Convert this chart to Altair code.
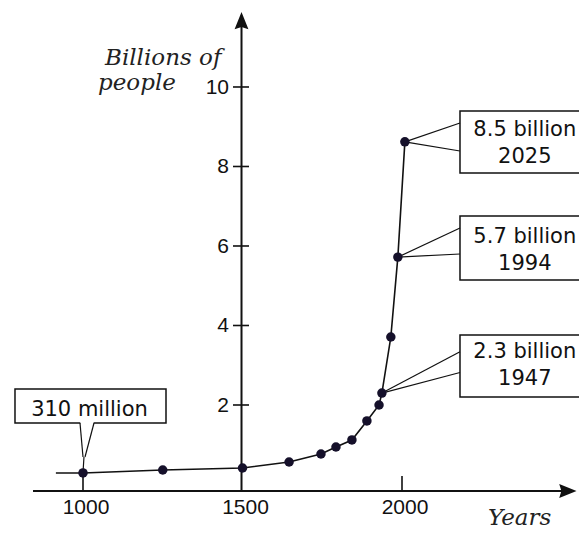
import altair as alt
import pandas as pd

# ---- data ----
years = [915, 1000, 1250, 1500, 1646, 1746, 1793, 1843, 1890, 1928, 1937, 1965, 1987, 2009]
billions = [0.29, 0.29, 0.365, 0.415, 0.566, 0.767, 0.943, 1.12, 1.60, 2.0, 2.30, 3.71, 5.72, 8.62]
has_dot = [False] + [True] * 13

x_ticks = [1000, 1500, 2000]
x_tick_labels = ["1000", "1500", "2000"]
y_ticks = [2, 4, 6, 8, 10]
y_tick_labels = ["2", "4", "6", "8", "10"]

callout_line1 = ["8.5 billion", "5.7 billion", "2.3 billion"]
callout_line2 = ["2025", "1994", "1947"]
callout_idx = [13, 12, 10]
box_top = [9.396, 6.755, 3.761]
box_bottom = [7.836, 5.145, 2.201]
leader_upper = [9.094, 6.453, 3.341]
leader_lower = [8.390, 5.799, 2.818]
line1_base = [8.767, 6.075, 3.180]
line2_base = [8.088, 5.396, 2.503]
box_left = 2181.8
box_right = 2620
text_center = 2385

small_label = "310 million"

# ---- scales ----
W, H = 571, 524
xs = alt.Scale(domain=[764.89, 2554.86], nice=False, zero=False)
ys = alt.Scale(domain=[-1.195, 11.987], nice=False, zero=False)
INK = "#111111"

axis_y = -0.164
axis_x = 1496.9

def X(f):
    return alt.X(f, type="quantitative", scale=xs, axis=None)

def Y(f):
    return alt.Y(f, type="quantitative", scale=ys, axis=None)

# rules: axes, ticks
rules = []
rules.append(dict(x=843.3, y=axis_y, x2=2535, y2=axis_y, w=2.0, c=INK))
rules.append(dict(x=axis_x, y=axis_y, x2=axis_x, y2=11.6, w=2.0, c=INK))
for v in y_ticks:
    rules.append(dict(x=1470.2, y=v, x2=1520.4, y2=v, w=1.6, c=INK))
for t in x_ticks:
    if t != 1500:
        rules.append(dict(x=t, y=axis_y, x2=t, y2=0.214, w=1.6, c=INK))
rules_df = pd.DataFrame(rules)

rule_layer = alt.Chart(rules_df).mark_rule().encode(
    x=X("x"), x2="x2", y=Y("y"), y2="y2",
    strokeWidth=alt.StrokeWidth("w:Q", scale=None),
    color=alt.Color("c:N", scale=None),
)

# arrow heads
arrows_df = pd.DataFrame([
    dict(x=2520.0, y=axis_y, shape="M1,0 L-1,-0.8 L-0.75,0 L-1,0.8 Z"),
    dict(x=axis_x, y=11.67, shape="M0,-1 L0.8,1 L0,0.75 L-0.8,1 Z"),
])
arrow_layer = alt.Chart(arrows_df).mark_point(filled=True, size=300, color=INK, opacity=1).encode(
    x=X("x"), y=Y("y"), shape=alt.Shape("shape:N", scale=None)
)

# tick labels
xlab_df = pd.DataFrame(dict(x=x_ticks, t=x_tick_labels, y=[-0.742] * len(x_ticks)))
xlab_layer = alt.Chart(xlab_df).mark_text(
    font="Liberation Sans", fontSize=21, color=INK, align="center", baseline="alphabetic", dx=3
).encode(x=X("x"), y=Y("y"), text="t:N")

ylab_df = pd.DataFrame(dict(y=y_ticks, t=y_tick_labels, x=[1457.7] * len(y_ticks)))
ylab_layer = alt.Chart(ylab_df).mark_text(
    font="Liberation Sans", fontSize=21, color=INK, align="right", baseline="middle", dy=1
).encode(x=X("x"), y=Y("y"), text="t:N")

# axis titles
titles_df = pd.DataFrame([
    dict(x=1068.97, y=10.553, t="Billions of"),
    dict(x=1047.0, y=9.925, t="people"),
    dict(x=2269.6, y=-1.02, t="Years"),
])
title_layer = alt.Chart(titles_df).mark_text(
    font="DejaVu Serif", fontStyle="italic", fontSize=23, color="#222222",
    align="left", baseline="alphabetic"
).encode(x=X("x"), y=Y("y"), text="t:N")

# callout boxes
boxes = [dict(x=box_left, x2=box_right, y=box_top[i], y2=box_bottom[i]) for i in range(3)]
boxes.append(dict(x=786.8, x2=1260.2, y=2.40, y2=1.547))
boxes_df = pd.DataFrame(boxes)
box_layer = alt.Chart(boxes_df).mark_rect(fill="white", stroke=INK, strokeWidth=1.5).encode(
    x=X("x"), x2="x2", y=Y("y"), y2="y2"
)

# leaders
lead = []
for i in range(3):
    px, py = years[callout_idx[i]], billions[callout_idx[i]]
    lead.append(dict(x=px, y=py, x2=box_left, y2=leader_upper[i], w=1.2, c=INK))
    lead.append(dict(x=px, y=py, x2=box_left, y2=leader_lower[i], w=1.2, c=INK))
# pointer of the small box
lead.append(dict(x=991.5, y=1.547, x2=1033.5, y2=1.547, w=2.5, c="white"))
lead.append(dict(x=990.6, y=1.547, x2=1000.0, y2=0.692, w=1.2, c=INK))
lead.append(dict(x=1034.5, y=1.547, x2=1006.3, y2=0.692, w=1.2, c=INK))
lead.append(dict(x=1003.0, y=0.692, x2=1000.0, y2=billions[1], w=1.2, c=INK))
lead_df = pd.DataFrame(lead)
lead_layer = alt.Chart(lead_df).mark_rule().encode(
    x=X("x"), x2="x2", y=Y("y"), y2="y2",
    strokeWidth=alt.StrokeWidth("w:Q", scale=None),
    color=alt.Color("c:N", scale=None),
)

# callout text
ct = []
for i in range(3):
    ct.append(dict(x=text_center, y=line1_base[i], t=callout_line1[i]))
    ct.append(dict(x=text_center, y=line2_base[i], t=callout_line2[i]))
ct.append(dict(x=1020.4, y=1.723, t=small_label))
ct_df = pd.DataFrame(ct)
ct_layer = alt.Chart(ct_df).mark_text(
    font="DejaVu Sans", fontSize=21, color=INK, align="center", baseline="alphabetic"
).encode(x=X("x"), y=Y("y"), text="t:N")

# series
series_df = pd.DataFrame(dict(year=years, pop=billions, dot=has_dot, order=list(range(len(years)))))
line_layer = alt.Chart(series_df).mark_line(color=INK, strokeWidth=1.6).encode(
    x=X("year"), y=Y("pop"), order="order:Q"
)
dot_layer = alt.Chart(series_df).transform_filter("datum.dot").mark_point(
    filled=True, size=90, color="#15102a", opacity=1, shape="circle"
).encode(x=X("year"), y=Y("pop"))

chart = alt.layer(
    rule_layer, arrow_layer, box_layer, lead_layer, line_layer, dot_layer,
    xlab_layer, ylab_layer, title_layer, ct_layer,
).properties(
    width=W, height=H, autosize=alt.AutoSizeParams(type="none"), padding=0, background="white"
).configure_view(strokeWidth=0)

chart.save("out.html", embed_options={"renderer": "svg", "actions": False})
